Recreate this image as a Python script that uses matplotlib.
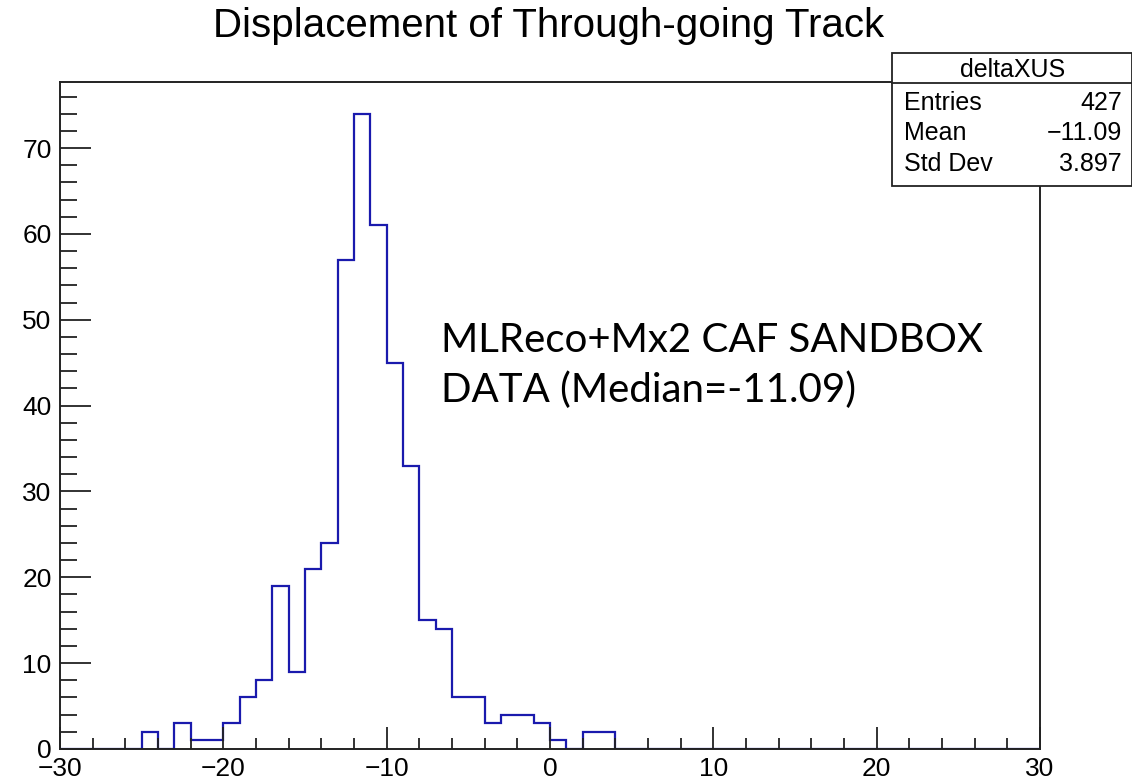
import matplotlib
matplotlib.use("Agg")
import matplotlib.pyplot as plt
from matplotlib.patches import Rectangle
from matplotlib.ticker import MultipleLocator
import numpy as np

plt.rcParams.update({
    "font.family": ["Liberation Sans", "DejaVu Sans"],
    "axes.unicode_minus": True,
})

# ---------------------------------------------------------------- data
# deltaXUS histogram, 1 cm bins from -30 to 30
bin_lo = -30
bin_width = 1
counts = [
    0, 0, 0, 0, 0,                                   # -30 .. -26
    2, 0, 3, 1, 1, 3, 6, 8, 19, 9,                   # -25 .. -16
    21, 24, 57, 74, 61, 45, 33, 15, 14, 6,           # -15 .. -6
    6, 3, 4, 4, 3, 1, 0, 2, 2,                       # -5 .. 3
    0, 0, 0, 0, 0, 0, 0, 0, 0, 0, 0, 0, 0,           # 4 .. 16
    0, 0, 0, 0, 0, 0, 0, 0, 0, 0, 0, 0, 0,           # 17 .. 29
]
hist_name = "deltaXUS"
stat_labels = ["Entries", "Mean", "Std Dev"]
stat_values = ["427", "\u221211.09", "3.897"]
title = "Displacement of Through-going Track"
note = "MLReco+Mx2 CAF SANDBOX\nDATA (Median=-11.09)"

LINE_C = "#1a1aad"

edges = bin_lo + bin_width * np.arange(len(counts) + 1)

W, H = 1132, 781
fig = plt.figure(figsize=(W / 100, H / 100), dpi=100)
ax = fig.add_axes([60 / W, 1 - 749 / H, 980 / W, 667 / H])

ax.stairs(counts, edges, color=LINE_C, linewidth=1.6, baseline=0)
ax.set_xlim(edges[0], edges[-1])
ax.set_ylim(0, max(counts) * 1.05)

# ROOT-style axes: ticks inside, only on left and bottom
for s in ax.spines.values():
    s.set_linewidth(1.4)
    s.set_color("#222222")
ax.xaxis.set_major_locator(MultipleLocator(10))
ax.xaxis.set_minor_locator(MultipleLocator(2))
ax.yaxis.set_major_locator(MultipleLocator(10))
ax.yaxis.set_minor_locator(MultipleLocator(2))
ax.tick_params(which="both", direction="in", top=False, right=False,
               labelsize=19, width=1.3, color="#222222")
ax.tick_params(axis="x", which="major", length=16, pad=6)
ax.tick_params(axis="x", which="minor", length=8)
ax.tick_params(axis="y", which="major", length=22, pad=6)
ax.tick_params(axis="y", which="minor", length=12)

fig.text(549 / W, 1 - 37 / H, title, ha="center", va="baseline", fontsize=29)

ax.text(0.389, 0.64, note, transform=ax.transAxes, ha="left", va="top",
        fontsize=29, family=["Lato", "DejaVu Sans"], linespacing=1.4)

# stats box in the top-right corner
bx0, bx1 = 892 / W, 1.0
by0, by1, bdiv = 1 - 186 / H, 1 - 53 / H, 1 - 83 / H
fig.add_artist(Rectangle((bx0, by0), bx1 - bx0, by1 - by0, transform=fig.transFigure,
                         facecolor="white", edgecolor="#222222", linewidth=1.3, zorder=5))
fig.add_artist(plt.Line2D([bx0, bx1], [bdiv, bdiv], transform=fig.transFigure,
                          color="#222222", linewidth=1.3, zorder=6))
fig.text(1013 / W, 1 - 70 / H, hist_name, ha="center", va="center",
         fontsize=18, zorder=7)
row_y = [103, 133, 164]
for yp, lab, val in zip(row_y, stat_labels, stat_values):
    yc = 1 - yp / H
    fig.text(904 / W, yc, lab, ha="left", va="center", fontsize=18, zorder=7)
    fig.text(1122 / W, yc, val, ha="right", va="center", fontsize=18, zorder=7)

fig.savefig("out.png", dpi=100)
